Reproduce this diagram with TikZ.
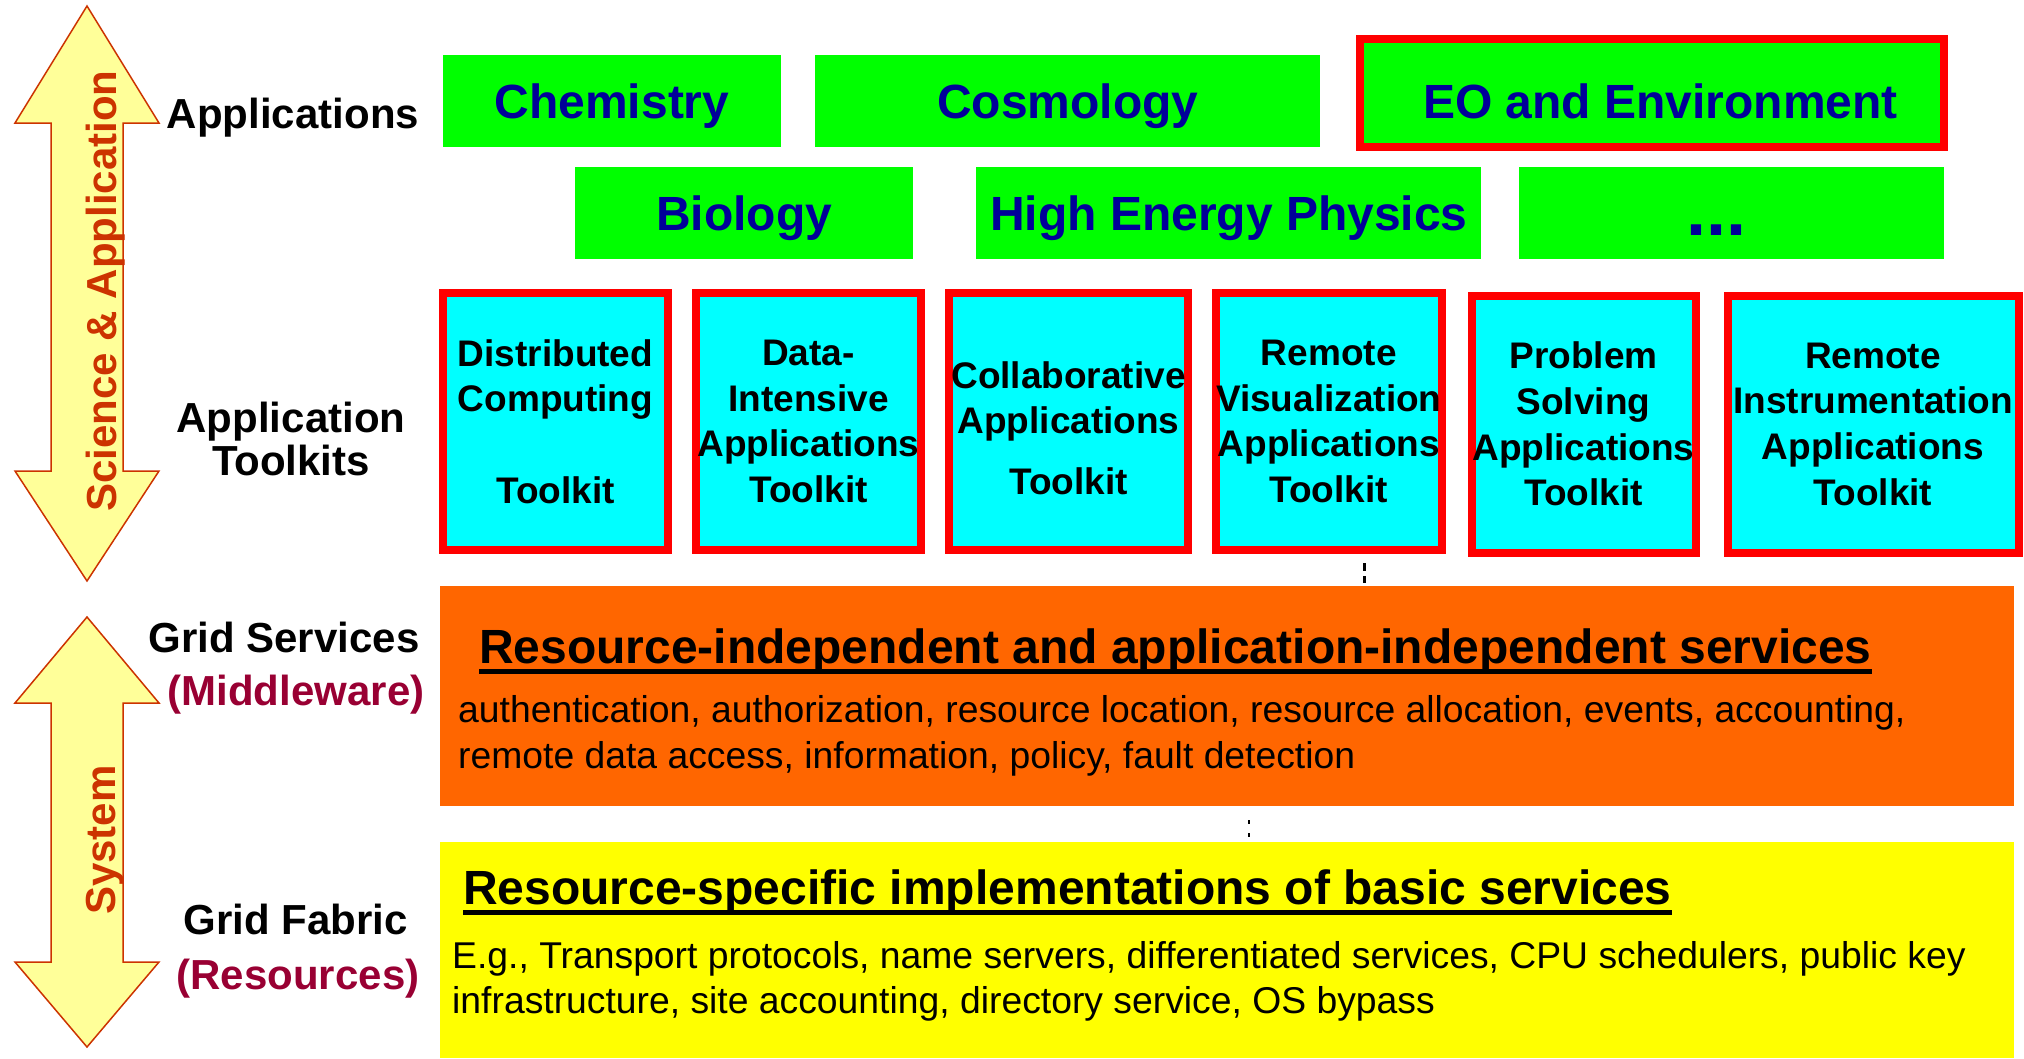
\documentclass[tikz,border=0pt]{standalone}
\usepackage{fontspec}
\setmainfont{Liberation Sans}
\usepackage{xcolor}
\usetikzlibrary{positioning, calc}
\definecolor{appGreen}{RGB}{0,255,0}
\definecolor{appBlue}{RGB}{0,0,153}
\definecolor{kitCyan}{RGB}{0,255,255}
\definecolor{hotRed}{RGB}{255,0,0}
\definecolor{serviceOrange}{RGB}{255,102,0}
\definecolor{fabricYellow}{RGB}{255,255,0}
\definecolor{arrowFill}{RGB}{255,255,153}
\definecolor{arrowEdge}{RGB}{204,51,0}
\definecolor{labelRed}{RGB}{153,0,51}
\tikzset{
    appbox/.style={
        rectangle,
        fill=appGreen,
        inner sep=0pt,
        minimum height=92pt,
        text depth=0pt,
        text=appBlue,
        font=\bfseries\fontsize{48}{52}\selectfont
    },
    hotbox/.style={
        appbox,
        draw=hotRed,
        line width=8pt
    },
    kitbox/.style={
        rectangle,
        draw=hotRed,
        line width=8pt,
        fill=kitCyan,
        inner sep=0pt,
        align=center,
        minimum width=225pt,
        minimum height=257pt,
        font=\bfseries\fontsize{37}{45.7}\selectfont
    },
    layerbox/.style={rectangle, inner sep=0pt, minimum width=1574pt},
    headtext/.style={anchor=base west, inner sep=0pt, font=\bfseries\fontsize{48}{52}\selectfont},
    bodytext/.style={anchor=north west, inner sep=0pt, align=left, font=\fontsize{37.3}{46}\selectfont},
    sidelabel/.style={inner sep=0pt, align=center, font=\bfseries\fontsize{42}{43}\selectfont},
    sublabel/.style={sidelabel, text=labelRed},
    bigarrow/.style={fill=arrowFill, draw=arrowEdge, line width=1.5pt},
    arrowlabel/.style={rotate=90, anchor=base, inner sep=0pt, text=arrowEdge, font=\bfseries\fontsize{42}{43}\selectfont},
    gapmark/.style={draw=black, line width=3pt, dash pattern=on 8pt off 5pt}
}

\begin{document}
\begin{tikzpicture}[x=1pt, y=-1pt]
    \useasboundingbox (0,0) rectangle (2024,1058);

    % double arrows on the left
    \draw[bigarrow] (87,6) -- (159,123) -- (123,123) -- (123,471) -- (159,471) -- (87,581)
        -- (15,471) -- (51,471) -- (51,123) -- (15,123) -- cycle;
    \draw[bigarrow] (87,617) -- (159,703) -- (123,703) -- (123,962) -- (159,962) -- (87,1047)
        -- (15,962) -- (51,962) -- (51,703) -- (15,703) -- cycle;
    \node[arrowlabel] (science) at (116,291) {Science \& Application};
    \node[arrowlabel] (system) at (115,840) {System};

    % layer names
    \node[sidelabel, anchor=base] (applbl) at (293,128) {Applications};
    \node[sidelabel, anchor=north] (kitlbl) at (291,402) {Application\\Toolkits};
    \node[sidelabel, anchor=base] (srvlbl) at (284,652) {Grid Services};
    \node[sublabel, anchor=base] (mwlbl) at (296,705) {(Middleware)};
    \node[sidelabel, anchor=base] (fablbl) at (296,934) {Grid Fabric};
    \node[sublabel, anchor=base] (reslbl) at (298,989) {(Resources)};

    % applications
    \node[appbox, minimum width=338pt] (chem) at (612,101) {Chemistry};
    \node[appbox, minimum width=505pt, right=34pt of chem] (cosmo) {Cosmology};
    \node[hotbox, minimum width=584pt, minimum height=108pt, text height=50pt, right=35pt of cosmo, yshift=8pt] (eo) {\hspace*{18pt}EO and Environment};
    \node[appbox, minimum width=338pt] (bio) at (744,213) {Biology};
    \node[appbox, minimum width=505pt, right=63pt of bio] (hep) {High Energy Physics};
    \node[appbox, minimum width=425pt, text height=44pt, font=\bfseries\fontsize{72}{76}\selectfont, right=37pt of hep] (more) {...\hspace*{30pt}};

    % toolkits
    \node[kitbox] (dist) at (555.5,421.5) {Distributed\\Computing\\[45.7pt]Toolkit};
    \node[kitbox, right=20pt of dist] (data) {Data-\\Intensive\\Applications\\Toolkit};
    \node[kitbox, minimum width=239pt, right=20pt of data] (collab) {\rule{0pt}{40pt}Collaborative\\Applications\\[15pt]Toolkit};
    \node[kitbox, right=20pt of collab] (vis) {Remote\\Visualization\\Applications\\Toolkit};
    \node[kitbox, minimum width=224pt, right=22pt of vis, yshift=-2.5pt] (pse) {Problem\\Solving\\Applications\\Toolkit};
    \node[kitbox, minimum width=291pt, right=24pt of pse] (instr) {Remote\\Instrumentation\\Applications\\Toolkit};

    % middleware layer
    \node[layerbox, fill=serviceOrange, minimum height=220pt] (services) at (1227,696) {};
    \node[headtext] (srvhead) at (479,663) {Resource-independent and application-independent services};
    \draw[line width=5pt] ([yshift=-8pt]srvhead.base west) -- ([yshift=-8pt]srvhead.base east);
    \node[bodytext] (srvtext) at (458,695.5) {authentication, authorization, resource location, resource allocation, events, accounting,\\remote data access, information, policy, fault detection};

    % fabric layer
    \node[layerbox, fill=fabricYellow, minimum height=216pt] (fabric) at (1227,950) {};
    \node[headtext] (fabhead) at (463,904) {Resource-specific implementations of basic services};
    \draw[line width=5pt] ([yshift=-8pt]fabhead.base west) -- ([yshift=-8pt]fabhead.base east);
    \node[bodytext, font=\fontsize{37.3}{45}\selectfont] (fabtext) at (452,941) {E.g., Transport protocols, name servers, differentiated services, CPU schedulers, public key\\infrastructure, site accounting, directory service, OS bypass};

    % little dashed links between the layers
    \coordinate (kitgapTop) at (1364,563);
    \coordinate (kitgapBot) at (1364,583);
    \draw[gapmark] (kitgapTop) -- (kitgapBot);
    \coordinate (srvgapTop) at (1249,820);
    \coordinate (srvgapBot) at (1249,838);
    \draw[gapmark, line width=2pt, dash pattern=on 4pt off 9pt] (srvgapTop) -- (srvgapBot);
\end{tikzpicture}
\end{document}
